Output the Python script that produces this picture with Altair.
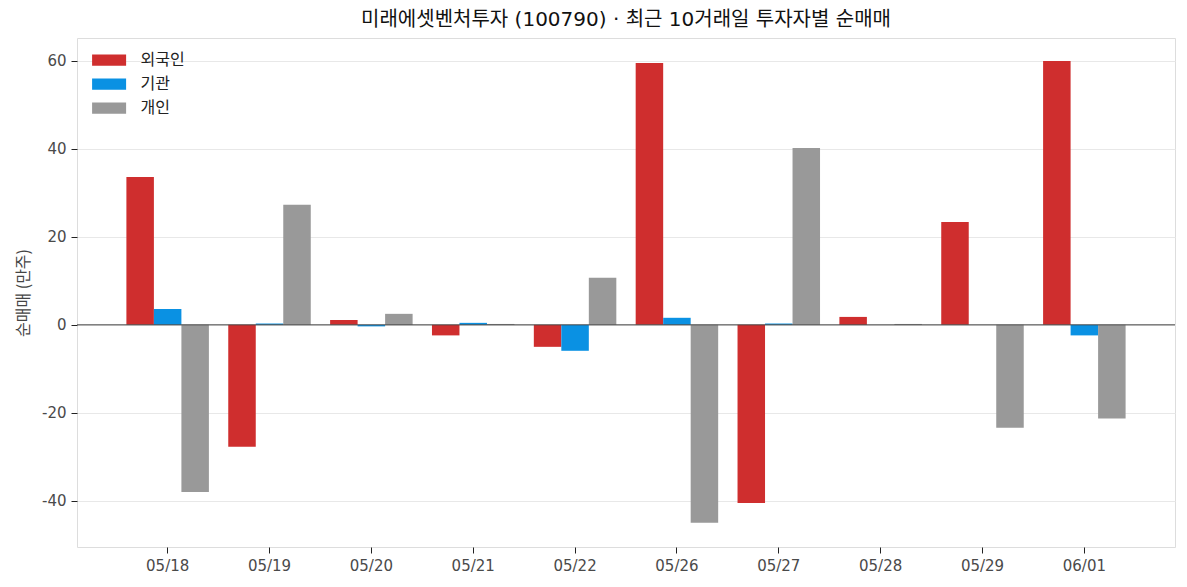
import altair as alt
import pandas as pd

dates = ["05/18", "05/19", "05/20", "05/21", "05/22", "05/26", "05/27", "05/28", "05/29", "06/01"]
foreign = [33.6, -27.7, 1.1, -2.4, -5.0, 59.5, -40.5, 1.8, 23.4, 60.0]
inst = [3.6, 0.3, -0.35, 0.45, -5.9, 1.6, 0.3, 0.0, 0.0, -2.4]
indiv = [-38.0, 27.3, 2.5, 0.2, 10.7, -45.0, 40.2, 0.2, -23.4, -21.3]
series = ["외국인", "기관", "개인"]
colors = ["#CF2E2E", "#0A91E3", "#999999"]

rows = []
for i, d in enumerate(dates):
    for s, vals in zip(series, [foreign, inst, indiv]):
        rows.append({"date": d, "series": s, "value": vals[i]})
df = pd.DataFrame(rows)

FONT = "DejaVu Sans, Noto Sans CJK KR"
KFONT = "Noto Sans CJK KR"

bars = alt.Chart(df).mark_bar().encode(
    x=alt.X("date:N", sort=dates, title=None,
            scale=alt.Scale(paddingInner=0.19, paddingOuter=0.485),
            axis=alt.Axis(labelAngle=0, domain=False, tickColor="#222", tickSize=6,
                          labelColor="#4a4a4a", labelFontSize=15, labelPadding=5, labelFont=FONT)),
    xOffset=alt.XOffset("series:N", sort=series),
    y=alt.Y("value:Q", title="순매매 (만주)",
            scale=alt.Scale(domain=[-50.5, 65.2], nice=False, zero=False),
            axis=alt.Axis(values=[-40, -20, 0, 20, 40, 60], domain=False, tickColor="#222",
                          tickSize=6, labelColor="#4a4a4a", labelFontSize=15, labelPadding=5,
                          labelExpr="replace(datum.label, '\u2212', '-')",
                          gridColor="#e8e8e8", labelFont=FONT, titleFont=KFONT,
                          titleFontSize=16, titleFontWeight="normal", titleColor="#444",
                          titlePadding=10)),
    color=alt.Color("series:N", sort=series,
                    scale=alt.Scale(domain=series, range=colors),
                    legend=alt.Legend(title=None, orient="none", legendX=20.6, legendY=10.6,
                                      symbolType="M-1.5,-0.5H1.5V0.5H-1.5Z",
                                      symbolSize=514, symbolStrokeWidth=0,
                                      labelFontSize=16, labelFont=KFONT, labelColor="#222",
                                      rowPadding=4, labelOffset=20, padding=0)),
)

zero = alt.Chart(pd.DataFrame({"y": [0]})).mark_rule(color="#444", strokeWidth=1).encode(y="y:Q")

chart = alt.layer(bars, zero).properties(
    width=1098, height=509,
    title=alt.Title("미래에셋벤처투자 (100790) · 최근 10거래일 투자자별 순매매",
                    font=FONT, fontSize=20, fontWeight="normal", color="#111",
                    anchor="middle", offset=8),
    autosize=alt.AutoSizeParams(type="none"),
    padding={"left": 77, "top": 38, "right": 12, "bottom": 40},
).configure_view(stroke="#dddddd", strokeWidth=1)

chart.save("out.html", embed_options={"renderer": "svg", "actions": False})
